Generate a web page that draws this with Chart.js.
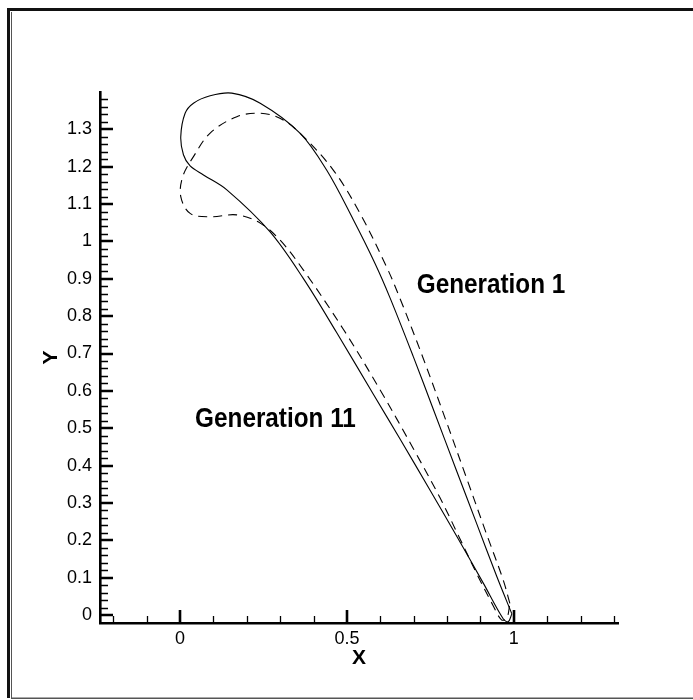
<!DOCTYPE html>
<html>
<head>
<meta charset="utf-8">
<script src="https://cdn.jsdelivr.net/npm/chart.js@4/dist/chart.umd.min.js"></script>
<style>
  html, body { margin: 0; padding: 0; background: #fff; }
  canvas { display: block; }
</style>
</head>
<body>
<canvas id="chart" width="693" height="700"></canvas>
<script>
// profiles, each one a closed loop starting at the trailing edge
const gen1X = [0.988, 0.968, 0.918, 0.858, 0.798, 0.728, 0.659, 0.619, 0.539, 0.459, 0.359, 0.299, 0.240, 0.170, 0.090, 0.040, 0.008, 0.002, 0.030, 0.090, 0.170, 0.240, 0.299, 0.369, 0.489, 0.599, 0.699, 0.778, 0.838, 0.888, 0.938, 0.963, 0.979, 0.988]
const gen1Y = [0.031, 0.094, 0.217, 0.367, 0.517, 0.688, 0.847, 0.931, 1.075, 1.191, 1.290, 1.330, 1.343, 1.334, 1.290, 1.227, 1.174, 1.120, 1.075, 1.066, 1.071, 1.049, 1.004, 0.924, 0.765, 0.603, 0.445, 0.315, 0.205, 0.112, 0.025, -0.013, -0.008, 0.031]

const gen11X = [0.994, 0.948, 0.888, 0.828, 0.758, 0.699, 0.629, 0.584, 0.519, 0.439, 0.359, 0.240, 0.155, 0.090, 0.040, 0.015, 0.002, 0.010, 0.030, 0.070, 0.140, 0.269, 0.369, 0.469, 0.579, 0.659, 0.749, 0.828, 0.908, 0.968, 0.983, 0.994]
const gen11Y = [0.003, 0.105, 0.246, 0.387, 0.552, 0.691, 0.849, 0.941, 1.058, 1.191, 1.290, 1.370, 1.397, 1.390, 1.370, 1.343, 1.281, 1.232, 1.202, 1.178, 1.138, 1.026, 0.901, 0.756, 0.591, 0.471, 0.334, 0.212, 0.086, -0.010, -0.018, 0.003]

const xTickValues = [0, 0.5, 1]
const xTickLabels = ["0", "0.5", "1"]
const yTickValues = [0, 0.1, 0.2, 0.3, 0.4, 0.5, 0.6, 0.7, 0.8, 0.9, 1, 1.1, 1.2, 1.3]
const yTickLabels = ["0", "0.1", "0.2", "0.3", "0.4", "0.5", "0.6", "0.7", "0.8", "0.9", "1", "1.1", "1.2", "1.3"]

const toPoints = (xs, ys) => xs.map((x, i) => ({x: x, y: ys[i]}))

// white page and the double frame round it
const pageFrame = {
    id: "pageFrame",
    beforeDraw(chart) {
        const {ctx, width, height} = chart
        ctx.save()
        ctx.fillStyle = "#fff"
        ctx.fillRect(0, 0, width, height)
        ctx.fillStyle = "#111"
        ctx.fillRect(7, 8, width - 7, 3)
        ctx.fillRect(7, 8, 3, height - 10)
        ctx.fillStyle = "#555"
        ctx.fillRect(11, 12, 1, height - 14)
        ctx.fillRect(11, height - 2.5, width - 11, 1.5)
        ctx.restore()
    }
}

// inward ticks, major and minor
const inwardTicks = {
    id: "inwardTicks",
    afterDraw(chart) {
        const {ctx, chartArea: {left, bottom}, scales: {x, y}} = chart
        ctx.save()
        ctx.strokeStyle = "#000"
        ctx.lineWidth = 1.3
        ctx.beginPath()
        for (let i = -2; i <= 13; i++) {
            if (i % 5 === 0) continue
            const px = Math.round(x.getPixelForValue(i / 10)) + 0.5
            ctx.moveTo(px, bottom)
            ctx.lineTo(px, bottom - 7)
        }
        for (let i = 1; i < 70; i++) {
            if (i % 5 === 0) continue
            const py = Math.round(y.getPixelForValue(i / 50)) + 0.5
            ctx.moveTo(left, py)
            ctx.lineTo(left + 8, py)
        }
        ctx.stroke()
        ctx.lineWidth = 2.6
        ctx.beginPath()
        xTickValues.forEach(v => {
            const px = Math.round(x.getPixelForValue(v))
            ctx.moveTo(px, bottom)
            ctx.lineTo(px, bottom - 13)
        })
        yTickValues.forEach(v => {
            const py = Math.round(y.getPixelForValue(v))
            ctx.moveTo(left, py)
            ctx.lineTo(left + 13, py)
        })
        ctx.stroke()
        ctx.restore()
    }
}

// the two generation labels, anchored in data space
const curveLabels = {
    id: "curveLabels",
    afterDraw(chart) {
        const {ctx, scales: {x, y}} = chart
        const labels = [
            {text: "Generation 1", x: 0.709, y: 0.863},
            {text: "Generation 11", x: 0.045, y: 0.504}
        ]
        ctx.save()
        ctx.fillStyle = "#000"
        ctx.font = "bold 27px 'Liberation Sans', Arial, sans-serif"
        ctx.textBaseline = "alphabetic"
        labels.forEach(l => {
            ctx.save()
            ctx.translate(x.getPixelForValue(l.x), y.getPixelForValue(l.y))
            ctx.scale(0.9, 1)
            ctx.fillText(l.text, 0, 0)
            ctx.restore()
        })
        ctx.restore()
    }
}

const tickFont = {family: "'Liberation Sans', Arial, sans-serif", size: 18}
const titleFont = {family: "'Liberation Sans', Arial, sans-serif", size: 21, weight: "bold"}

new Chart(document.getElementById("chart"), {
    type: "scatter",
    data: {
        datasets: [{
            label: "Generation 1",
            data: toPoints(gen1X, gen1Y),
            showLine: true,
            borderColor: "#000",
            borderWidth: 1.1,
            borderDash: [9, 6],
            pointRadius: 0,
            tension: 0.35
        }, {
            label: "Generation 11",
            data: toPoints(gen11X, gen11Y),
            showLine: true,
            borderColor: "#000",
            borderWidth: 1.1,
            pointRadius: 0,
            tension: 0.35
        }]
    },
    options: {
        responsive: false,
        animation: false,
        devicePixelRatio: 1,
        layout: {padding: {top: 92, right: 75, left: 0, bottom: 0}},
        scales: {
            x: {
                type: "linear",
                min: -0.24,
                max: 1.312,
                afterFit: s => { s.height = 77 },
                afterBuildTicks: s => { s.ticks = xTickValues.map(v => ({value: v})) },
                ticks: {
                    font: tickFont,
                    color: "#000",
                    padding: 5,
                    maxRotation: 0,
                    callback: (v, i) => xTickLabels[i]
                },
                grid: {display: false, drawTicks: false},
                border: {display: true, color: "#000", width: 2.6},
                title: {display: true, text: "X", font: titleFont, color: "#000", padding: {top: 0, bottom: 29}}
            },
            y: {
                type: "linear",
                min: -0.0214,
                max: 1.4,
                afterFit: s => { s.width = 100 },
                afterBuildTicks: s => { s.ticks = yTickValues.map(v => ({value: v})) },
                ticks: {
                    font: tickFont,
                    color: "#000",
                    padding: 8,
                    callback: (v, i) => yTickLabels[i]
                },
                grid: {display: false, drawTicks: false},
                border: {display: true, color: "#000", width: 2.6},
                title: {display: true, text: "Y", font: titleFont, color: "#000", padding: {top: 39, bottom: 0}}
            }
        },
        plugins: {
            legend: {display: false},
            tooltip: {enabled: false}
        }
    },
    plugins: [pageFrame, inwardTicks, curveLabels]
})
</script>
</body>
</html>
